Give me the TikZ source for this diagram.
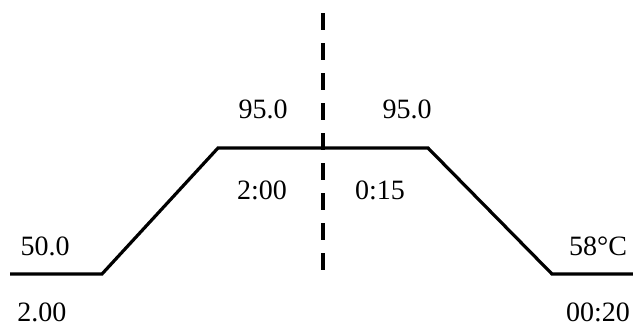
\documentclass[tikz,border=0pt]{standalone}
\usepackage{fontspec}
\setmainfont{Liberation Serif}
\usetikzlibrary{positioning}

\tikzset{
  profile/.style={line width=1.6pt,line join=miter},
  divider/.style={line width=1.6pt,dash pattern=on 8.5pt off 6.5pt},
  lbl/.style={inner sep=0pt,font=\fontsize{14}{16}\selectfont}
}

\begin{document}
\begin{tikzpicture}[x=0.5pt,y=-0.5pt]
    \useasboundingbox (0,0) rectangle (633,327);
    % corners of the temperature profile
    \coordinate (start) at (10,274);
    \coordinate (rise) at (102,274);
    \coordinate (topl) at (218,148);
    \coordinate (topr) at (428,148);
    \coordinate (fall) at (552,274);
    \coordinate (stop) at (633,274);
    \coordinate (divtop) at (323,13);
    \coordinate (divbot) at (323,270);
    \draw[profile] (start) -- (rise) -- (topl) -- (topr) -- (fall) -- (stop);
    \draw[divider] (divtop) -- (divbot);
    % temperatures and times
    \node[lbl] (t1) at (45,246) {50.0};
    \node[lbl] (d1) at (42,312) {2.00};
    \node[lbl] (t2) at (263,109) {95.0};
    \node[lbl] (d2) at (262,190) {2:00};
    \node[lbl] (t3) at (407,109) {95.0};
    \node[lbl] (d3) at (380,190) {0:15};
    \node[lbl] (t4) at (598,246) {58°C};
    \node[lbl] (d4) at (598,312) {00:20};
  \end{tikzpicture}
\end{document}
